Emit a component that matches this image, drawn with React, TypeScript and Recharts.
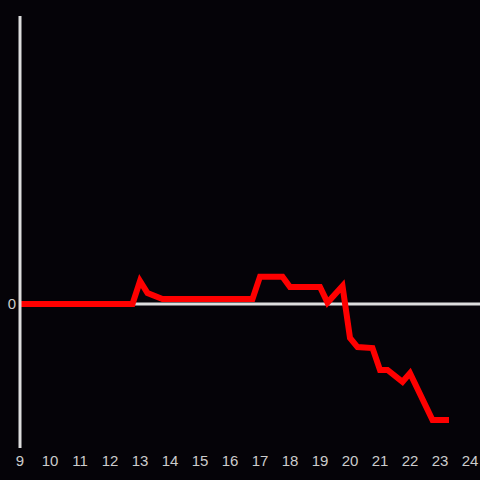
import { LineChart, Line, XAxis, YAxis, ReferenceLine } from 'recharts';

// hour of day
const hours = [9, 12.75, 13, 13.25, 13.75, 16.75, 17, 17.75, 18, 19, 19.25, 19.75, 20, 20.25, 20.75, 21, 21.25, 21.75, 22, 22.75, 23.3];
// series values
const values = [0, 0, 0.16, 0.076, 0.035, 0.035, 0.19, 0.19, 0.118, 0.118, 0.01, 0.125, -0.236, -0.299, -0.306, -0.458, -0.458, -0.54, -0.48, -0.806, -0.806];
const xTicks = [9, 10, 11, 12, 13, 14, 15, 16, 17, 18, 19, 20, 21, 22, 23, 24];
const yTicks = [0];

const data = hours.map((t, i) => ({ t, v: values[i] }));

const font = 'Liberation Sans, Arial, sans-serif';

export default function App() {
  return (
    <div style={{ position: 'fixed', top: 0, left: 0, width: 480, height: 480, background: '#050308', fontFamily: font }}>
      <LineChart width={480} height={480} data={data} margin={{ top: 16, right: 0, left: 0, bottom: 0 }}>
        <XAxis
          dataKey="t"
          type="number"
          domain={[9, 24.333]}
          ticks={xTicks}
          axisLine={false}
          tickLine={false}
          height={32}
          fontSize={15}
          tick={{ fill: '#cccccc', fontSize: 15, dy: -1 }}
          interval={0}
        />
        <YAxis
          type="number"
          domain={[-1, 2]}
          ticks={yTicks}
          width={20}
          axisLine={{ stroke: '#dddddd', strokeWidth: 3 }}
          tickLine={false}
          fontSize={15}
          tick={{ fill: '#cccccc', fontSize: 15, dx: 4 }}
        />
        <ReferenceLine y={0} stroke="#dddddd" strokeWidth={3} />
        <Line
          type="linear"
          dataKey="v"
          stroke="#ff0000"
          strokeWidth={6}
          dot={false}
          isAnimationActive={false}
        />
      </LineChart>
    </div>
  );
}
